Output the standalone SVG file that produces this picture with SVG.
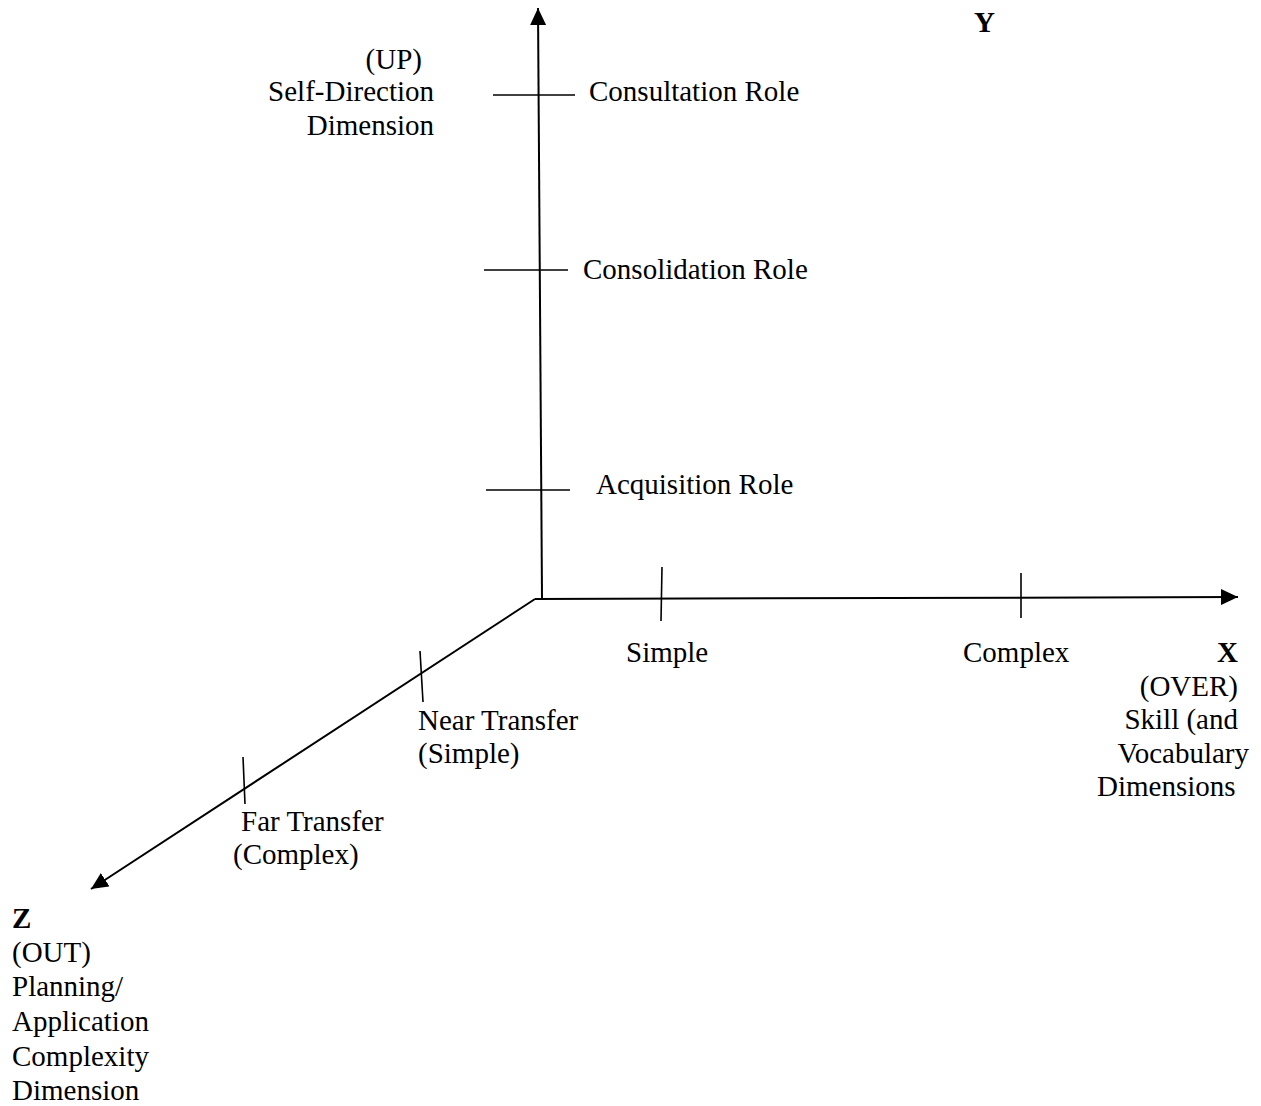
<svg xmlns="http://www.w3.org/2000/svg" width="1261" height="1106" viewBox="0 0 1261 1106">
<style>
text { font-family: "Liberation Serif", "Times New Roman", serif; font-size: 29px; fill: #000; }
.b { font-weight: bold; }
.axis { stroke: #000; stroke-width: 2; fill: none; }
.tick { stroke: #000; stroke-width: 1.6; fill: none; }
</style>
<defs>
<marker id="arr" viewBox="0 0 17 16" refX="17" refY="8" markerWidth="17" markerHeight="16" markerUnits="userSpaceOnUse" orient="auto">
<path d="M0,0 L17,8 L0,16 Z" fill="#000"/>
</marker>
</defs>
<rect width="1261" height="1106" fill="#fff"/>
<g id="connectors">
<line class="axis" x1="542" y1="598" x2="538" y2="8" marker-end="url(#arr)"/>
<line class="axis" x1="535" y1="599" x2="1238" y2="597" marker-end="url(#arr)"/>
<line class="axis" x1="535" y1="599" x2="91" y2="889" marker-end="url(#arr)"/>
</g>
<g id="ticks">
<line class="tick" x1="493" y1="95" x2="575" y2="95"/>
<line class="tick" x1="484" y1="270" x2="568" y2="270"/>
<line class="tick" x1="486" y1="490" x2="570" y2="490"/>
<line class="tick" x1="662" y1="567" x2="661" y2="621"/>
<line class="tick" x1="1021" y1="573" x2="1021" y2="618"/>
<line class="tick" x1="420" y1="651" x2="423" y2="702"/>
<line class="tick" x1="243" y1="757" x2="245" y2="804"/>
</g>
<g id="y-label">
<text class="b" x="974" y="32">Y</text>
</g>
<g id="up-label">
<text x="422" y="69" text-anchor="end">(UP)</text>
<text x="434" y="101" text-anchor="end">Self-Direction</text>
<text x="434" y="135" text-anchor="end">Dimension</text>
</g>
<g id="consultation">
<text x="589" y="101">Consultation Role</text>
</g>
<g id="consolidation">
<text x="583" y="279">Consolidation Role</text>
</g>
<g id="acquisition">
<text x="596" y="494">Acquisition Role</text>
</g>
<g id="simple">
<text x="626" y="662">Simple</text>
</g>
<g id="complex">
<text x="963" y="662">Complex</text>
</g>
<g id="x-label">
<text class="b" x="1238" y="662" text-anchor="end">X</text>
<text x="1238" y="696" text-anchor="end">(OVER)</text>
<text x="1238" y="729" text-anchor="end">Skill (and</text>
<text x="1249" y="763" text-anchor="end">Vocabulary</text>
<text x="1097" y="796">Dimensions</text>
</g>
<g id="near-transfer">
<text x="418" y="730">Near Transfer</text>
<text x="418" y="763">(Simple)</text>
</g>
<g id="far-transfer">
<text x="241" y="831">Far Transfer</text>
<text x="233" y="864">(Complex)</text>
</g>
<g id="z-label">
<text class="b" x="12" y="928">Z</text>
<text x="12" y="962">(OUT)</text>
<text x="12" y="996">Planning/</text>
<text x="12" y="1031">Application</text>
<text x="12" y="1066">Complexity</text>
<text x="12" y="1100">Dimension</text>
</g>
</svg>
